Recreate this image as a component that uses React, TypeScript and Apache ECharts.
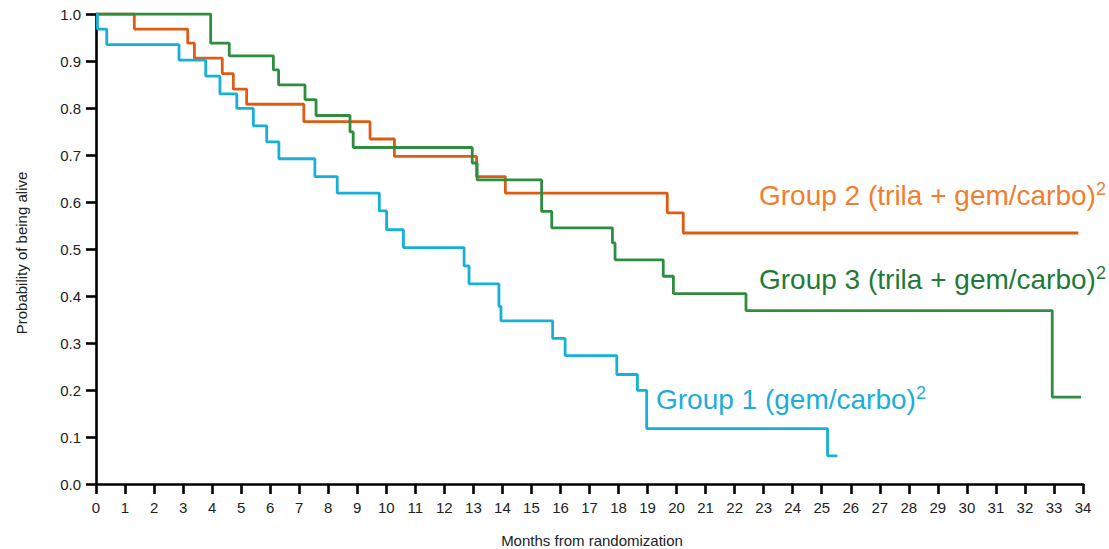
import { useEffect, useRef } from "react";
import * as echarts from "echarts";

// X tick labels (months)
const monthTicks = Array.from({ length: 35 }, (_, i) => i);
const yTicks = [0, 0.1, 0.2, 0.3, 0.4, 0.5, 0.6, 0.7, 0.8, 0.9, 1.0];

// Group 1 (gem/carbo)
const g1Times = [0, 0.05, 0.37, 2.86, 3.78, 4.27, 4.85, 5.42, 5.88, 6.3, 7.54, 8.31, 9.76, 10.01, 10.59, 12.68, 12.85, 13.88, 13.95, 15.73, 16.16, 17.94, 18.65, 18.97, 25.2];
const g1Surv = [1.0, 0.968, 0.935, 0.902, 0.868, 0.83, 0.799, 0.762, 0.728, 0.692, 0.654, 0.619, 0.581, 0.541, 0.503, 0.464, 0.426, 0.378, 0.347, 0.31, 0.273, 0.233, 0.199, 0.118, 0.06];
const g1End = 25.54;

// Group 2 (trila + gem/carbo)
const g2Times = [0, 1.32, 3.16, 3.39, 4.35, 4.73, 5.19, 7.16, 9.44, 10.28, 13.11, 14.1, 19.68, 20.23];
const g2Surv = [1.0, 0.968, 0.938, 0.906, 0.873, 0.84, 0.808, 0.771, 0.734, 0.697, 0.654, 0.619, 0.577, 0.534];
const g2End = 33.84;

// Group 3 (trila + gem/carbo)
const g3Times = [0, 3.95, 4.59, 6.11, 6.29, 7.2, 7.58, 8.75, 8.86, 12.96, 13.13, 15.35, 15.7, 17.79, 17.88, 19.54, 19.89, 22.39, 32.94];
const g3Surv = [1.0, 0.938, 0.911, 0.881, 0.849, 0.818, 0.784, 0.749, 0.716, 0.683, 0.647, 0.58, 0.545, 0.513, 0.477, 0.442, 0.405, 0.369, 0.185];
const g3End = 33.93;

const labels = {
  g1: "Group 1 (gem/carbo)",
  g2: "Group 2 (trila + gem/carbo)",
  g3: "Group 3 (trila + gem/carbo)",
  sup: "2",
};

const COLORS = {
  g1Line: "#17B0D9",
  g1Text: "#1DAED8",
  g2Line: "#DD5C12",
  g2Text: "#F07E2E",
  g3Line: "#2E8D3F",
  g3Text: "#1F7A38",
};

function km(times: number[], surv: number[], end: number) {
  const d = times.map((t, i) => [t, surv[i]]);
  d.push([end, surv[surv.length - 1]]);
  return d;
}

const FONT = "Liberation Sans, Arial, sans-serif";

function label(text: string, x: number, y: number, color: string) {
  return {
    type: "text",
    x,
    y,
    style: {
      text: `{m|${text}}{s|${labels.sup}}`,
      verticalAlign: "middle",
      fontFamily: FONT,
      rich: {
        m: { fontSize: 28, fill: color, fontFamily: FONT, lineHeight: 30 },
        s: { fontSize: 18, fill: color, fontFamily: FONT, verticalAlign: "top", lineHeight: 30 },
      },
    },
  };
}

export default function App() {
  const ref = useRef<HTMLDivElement>(null);
  useEffect(() => {
    document.body.style.margin = "0";
    const chart = echarts.init(ref.current!, null, { renderer: "svg" });
    chart.setOption({
      animation: false,
      backgroundColor: "#fff",
      grid: { left: 96, right: 26, top: 14, bottom: 65, containLabel: false },
      xAxis: {
        type: "value",
        min: monthTicks[0],
        max: monthTicks[monthTicks.length - 1],
        interval: 1,
        axisLine: { lineStyle: { color: "#000", width: 2.6 } },
        axisTick: { length: 10, lineStyle: { color: "#000", width: 2.6 } },
        axisLabel: { color: "#222", fontSize: 15, fontFamily: FONT, margin: 16 },
        splitLine: { show: false },
      },
      yAxis: {
        type: "value",
        min: yTicks[0],
        max: yTicks[yTicks.length - 1],
        interval: 0.1,
        axisLine: { show: true, lineStyle: { color: "#000", width: 2.6 } },
        axisTick: { show: true, length: 10, lineStyle: { color: "#000", width: 2.6 } },
        axisLabel: {
          color: "#222",
          fontSize: 15,
          fontFamily: FONT,
          margin: 15,
          formatter: (v: number) => v.toFixed(1),
        },
        splitLine: { show: false },
      },
      series: [
        {
          name: labels.g2,
          type: "line",
          step: "end",
          symbol: "none",
          data: km(g2Times, g2Surv, g2End),
          lineStyle: { color: COLORS.g2Line, width: 2.8 },
        },
        {
          name: labels.g3,
          type: "line",
          step: "end",
          symbol: "none",
          data: km(g3Times, g3Surv, g3End),
          lineStyle: { color: COLORS.g3Line, width: 2.8 },
        },
        {
          name: labels.g1,
          type: "line",
          step: "end",
          symbol: "none",
          data: km(g1Times, g1Surv, g1End),
          lineStyle: { color: COLORS.g1Line, width: 2.8 },
        },
      ],
      graphic: [
        label(labels.g2, 759, 195, COLORS.g2Text),
        label(labels.g3, 759, 279, COLORS.g3Text),
        label(labels.g1, 656, 399, COLORS.g1Text),
        {
          type: "text",
          x: 21,
          y: 253,
          rotation: Math.PI / 2,
          style: {
            text: "Probability of being alive",
            fontSize: 15,
            fontFamily: FONT,
            fill: "#222",
            align: "center",
            verticalAlign: "middle",
          },
        },
        {
          type: "text",
          x: 592,
          y: 540,
          style: {
            text: "Months from randomization",
            fontSize: 15,
            fontFamily: FONT,
            fill: "#222",
            align: "center",
            verticalAlign: "middle",
          },
        },
      ],
    });
    return () => chart.dispose();
  }, []);
  return <div ref={ref} style={{ width: 1109, height: 549 }} />;
}
